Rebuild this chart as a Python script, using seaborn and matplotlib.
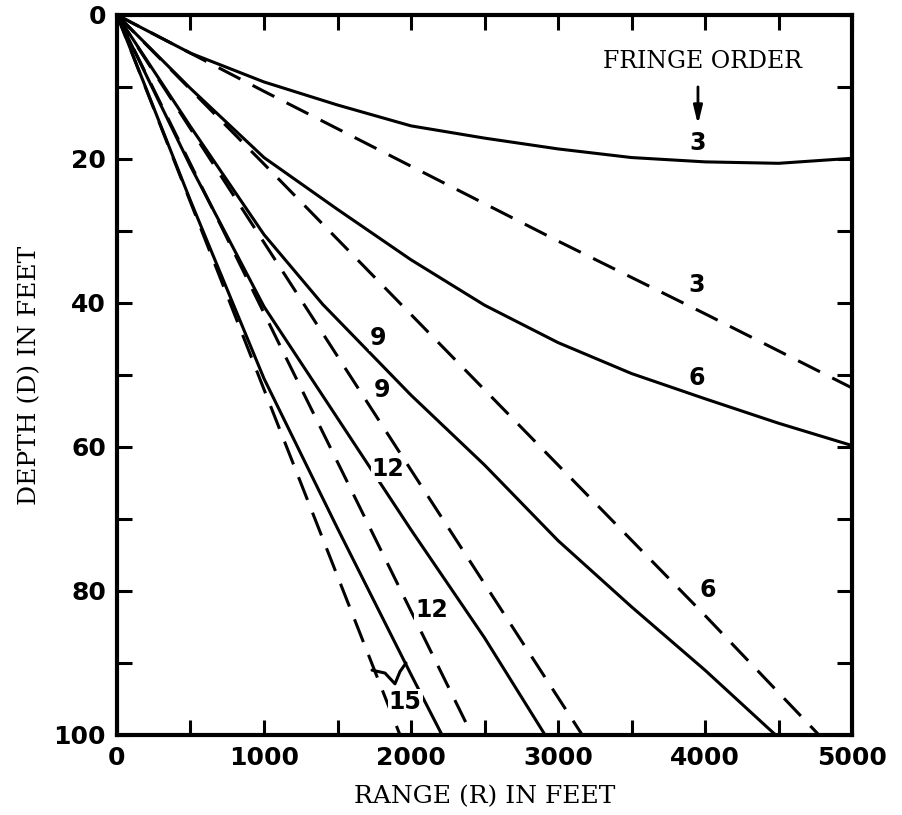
import numpy as np
import pandas as pd
import seaborn as sns
import matplotlib.pyplot as plt
from matplotlib.ticker import MultipleLocator

sns.set_theme(style="white")
plt.rcParams['font.family'] = ['DejaVu Sans']

# fringe order curves, range (ft) vs depth (ft)
solid_3_r = [0, 500, 1000, 1500, 2000, 2500, 3000, 3500, 4000, 4500, 5000]
solid_3_d = [0, 5.3, 9.3, 12.5, 15.4, 17.1, 18.6, 19.8, 20.4, 20.6, 19.9]
dashed_3_r = [0, 1000, 2000, 3000, 4000, 5000]
dashed_3_d = [0, 10.6, 21.0, 31.4, 41.5, 51.8]

solid_6_r = [0, 500, 1000, 1500, 2000, 2500, 3000, 3500, 4000, 4500, 5000]
solid_6_d = [0, 10.2, 19.8, 27.0, 34.0, 40.3, 45.5, 49.8, 53.3, 56.7, 59.8]
dashed_6_r = [0, 1000, 2000, 3000, 4000, 4775]
dashed_6_d = [0, 20.7, 41.6, 62.5, 83.4, 100]

solid_9_r = [0, 500, 1000, 1400, 2000, 2500, 3000, 3500, 4000, 4480]
solid_9_d = [0, 15.5, 30.5, 40.2, 52.8, 62.5, 73.0, 82.2, 91.0, 100]
dashed_9_r = [0, 1000, 2000, 3165]
dashed_9_d = [0, 31.6, 63.2, 100]

solid_12_r = [0, 500, 1000, 1500, 2000, 2500, 2912]
solid_12_d = [0, 21.0, 40.5, 56.0, 71.5, 86.5, 100]
dashed_12_r = [0, 1000, 2000, 2415]
dashed_12_d = [0, 41.4, 82.8, 100]

solid_15_r = [0, 500, 1000, 1500, 2000, 2211]
solid_15_d = [0, 25.8, 50.5, 71.3, 91.6, 100]
dashed_15_r = [0, 1000, 1925]
dashed_15_d = [0, 52.0, 100]

curves = [
    ("3", "solid", solid_3_r, solid_3_d), ("3", "dashed", dashed_3_r, dashed_3_d),
    ("6", "solid", solid_6_r, solid_6_d), ("6", "dashed", dashed_6_r, dashed_6_d),
    ("9", "solid", solid_9_r, solid_9_d), ("9", "dashed", dashed_9_r, dashed_9_d),
    ("12", "solid", solid_12_r, solid_12_d), ("12", "dashed", dashed_12_r, dashed_12_d),
    ("15", "solid", solid_15_r, solid_15_d), ("15", "dashed", dashed_15_r, dashed_15_d),
]
df = pd.concat([pd.DataFrame({"order": o, "kind": k, "curve": o + k, "R": r, "D": d})
                for o, k, r, d in curves], ignore_index=True)

# curve labels
label_text = ["3", "3", "6", "9", "9", "12", "6", "12", "15"]
label_r = [3952, 3945, 3945, 1776, 1800, 1845, 4020, 2140, 1960]
label_d = [17.8, 37.5, 50.4, 44.9, 52.1, 63.0, 79.9, 82.6, 95.4]

# little tie mark next to the 15s
tie_r = [1735, 1823, 1891, 1925, 1966]
tie_d = [91.0, 91.4, 92.9, 91.2, 90.0]

serif = "DejaVu Serif"

fig = plt.figure(figsize=(9.02, 8.15), dpi=100)
ax = fig.add_axes([0.1297, 0.0982, 0.8149, 0.8834])

sns.lineplot(data=df, x="R", y="D", units="curve", style="kind", estimator=None,
             sort=False, color="black", linewidth=2.2,
             dashes={"solid": "", "dashed": (8, 4.5)}, legend=False, ax=ax)

for t, r, d in zip(label_text, label_r, label_d):
    ax.text(r, d, t, ha="center", va="center", fontsize=17, fontweight="bold",
            color="black", bbox=dict(boxstyle="square,pad=0.05", fc="white", ec="none"))

ax.plot(tie_r, tie_d, color="black", lw=2.2)

ax.text(3985, 6.5, "FRINGE ORDER", ha="center", va="center",
        family=serif, fontsize=17, color="black")
ax.annotate("", xy=(3952, 15.6), xytext=(3952, 9.6),
            arrowprops=dict(arrowstyle="-|>,head_width=0.22,head_length=0.9",
                            color="black", lw=2))

ax.set_xlim(0, 5000)
ax.set_ylim(100, 0)
ax.xaxis.set_major_locator(MultipleLocator(1000))
ax.xaxis.set_minor_locator(MultipleLocator(500))
ax.yaxis.set_major_locator(MultipleLocator(20))
ax.yaxis.set_minor_locator(MultipleLocator(10))
ax.tick_params(which="both", direction="in", length=11, width=2.2, color="black",
               top=True, right=True, bottom=True, left=True)
ax.tick_params(which="major", labelsize=18, pad=8, labelcolor="black")
for lab in ax.get_xticklabels() + ax.get_yticklabels():
    lab.set_fontweight("bold")

for s in ax.spines.values():
    s.set_linewidth(3)
    s.set_color("black")

ax.set_xlabel("RANGE (R) IN FEET", family=serif, fontsize=18,
              color="black", labelpad=11)
ax.set_ylabel("DEPTH (D) IN FEET", family=serif, fontsize=18,
              color="black", labelpad=9)

fig.savefig("out.png", dpi=100, facecolor="white")
